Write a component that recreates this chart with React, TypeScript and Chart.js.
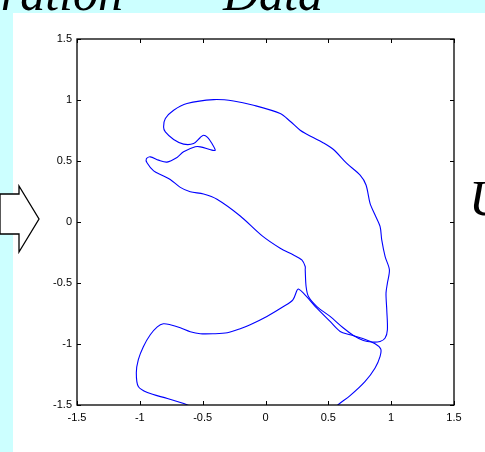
import { useEffect, useRef } from 'react';
import { Chart, registerables } from 'chart.js';

Chart.register(...registerables);

const xTickValues = [-1.5, -1, -0.5, 0, 0.5, 1, 1.5];
const xTickLabels = ['-1.5', '-1', '-0.5', '0', '0.5', '1', '1.5'];
const yTickValues = [-1.5, -1, -0.5, 0, 0.5, 1, 1.5];
const yTickLabels = ['-1.5', '-1', '-0.5', '0', '0.5', '1', '1.5'];

// closed upper contour
const loopX = [
  0.316, 0.323, 0.342, 0.409, 0.514, 0.62, 0.7, 0.779, 0.846, 0.912, 0.952, 0.97, 0.965, 0.959, 0.97, 0.986,
  0.952, 0.925, 0.912, 0.872, 0.832, 0.8, 0.753, 0.647, 0.541, 0.461, 0.329, 0.276, 0.196, 0.117, -0.095,
  -0.254, -0.413, -0.625, -0.731, -0.797, -0.811, -0.797, -0.731, -0.652, -0.572, -0.519, -0.493, -0.461,
  -0.426, -0.4, -0.426, -0.519, -0.559, -0.652, -0.704, -0.784, -0.851, -0.917, -0.948, -0.943, -0.89,
  -0.824, -0.758, -0.678, -0.599, -0.493, -0.386, -0.201, -0.026, 0.117, 0.223, 0.289, 0.316, 0.316,
];
const loopY = [
  -0.392, -0.529, -0.611, -0.693, -0.774, -0.869, -0.93, -0.971, -0.984, -0.979, -0.951, -0.883, -0.72, -0.583,
  -0.501, -0.392, -0.284, -0.147, -0.038, 0.057, 0.153, 0.303, 0.384, 0.48, 0.594, 0.648, 0.72, 0.752, 0.826,
  0.889, 0.957, 0.992, 1.003, 0.971, 0.916, 0.848, 0.779, 0.738, 0.676, 0.638, 0.643, 0.693, 0.711, 0.693,
  0.643, 0.589, 0.589, 0.616, 0.616, 0.575, 0.529, 0.491, 0.507, 0.534, 0.518, 0.485, 0.419, 0.384, 0.349,
  0.284, 0.248, 0.229, 0.186, 0.049, -0.114, -0.215, -0.27, -0.311, -0.365, -0.392,
];

// open lower contour (runs off the bottom edge at both ends)
const curveX = [
  -0.559, -0.63, -0.781, -0.94, -1.012, -1.028, -1.012, -0.972, -0.917, -0.861, -0.813, -0.758, -0.678,
  -0.599, -0.519, -0.416, -0.304, -0.201, -0.122, 0.011, 0.143, 0.218, 0.25, 0.262, 0.302, 0.409, 0.514,
  0.594, 0.673, 0.779, 0.872, 0.917, 0.912, 0.872, 0.793, 0.673, 0.58, 0.522,
];
const curveY = [
  -1.529, -1.496, -1.447, -1.398, -1.349, -1.235, -1.128, -1.022, -0.924, -0.859, -0.834, -0.842, -0.867,
  -0.899, -0.916, -0.916, -0.908, -0.875, -0.842, -0.774, -0.693, -0.638, -0.562, -0.55, -0.583, -0.706,
  -0.815, -0.897, -0.924, -0.957, -0.998, -1.041, -1.101, -1.196, -1.306, -1.423, -1.496, -1.554,
];

const zip = (xs: number[], ys: number[]) => xs.map((x, i) => ({ x, y: ys[i] }));

const decor = {
  id: 'decor',
  beforeDraw(chart: any) {
    const ctx = chart.ctx as CanvasRenderingContext2D;
    const w = chart.width;
    const h = chart.height;
    ctx.save();
    ctx.fillStyle = '#ffffff';
    ctx.fillRect(0, 0, w, h);
    ctx.fillStyle = '#ccffff';
    ctx.fillRect(0, 0, w, 13);
    ctx.fillRect(0, 0, 13, h);
    ctx.restore();
  },
  afterDraw(chart: any) {
    const ctx = chart.ctx as CanvasRenderingContext2D;
    const a = chart.chartArea;
    const xs = chart.scales.x;
    const ys = chart.scales.y;
    ctx.save();
    // frame
    ctx.strokeStyle = '#000000';
    ctx.lineWidth = 1.3;
    ctx.strokeRect(a.left, a.top, a.right - a.left, a.bottom - a.top);
    // inward ticks
    ctx.lineWidth = 1;
    const tl = 4;
    ctx.beginPath();
    xTickValues.forEach((v) => {
      const px = Math.round(xs.getPixelForValue(v)) + 0.5;
      ctx.moveTo(px, a.bottom);
      ctx.lineTo(px, a.bottom - tl);
      ctx.moveTo(px, a.top);
      ctx.lineTo(px, a.top + tl);
    });
    yTickValues.forEach((v) => {
      const py = Math.round(ys.getPixelForValue(v)) + 0.5;
      ctx.moveTo(a.left, py);
      ctx.lineTo(a.left + tl, py);
      ctx.moveTo(a.right, py);
      ctx.lineTo(a.right - tl, py);
    });
    ctx.stroke();

    // slide fragments around the figure
    ctx.fillStyle = '#000000';
    ctx.font = 'italic 50px "Liberation Serif", "DejaVu Serif", serif';
    ctx.textBaseline = 'alphabetic';
    ctx.textAlign = 'right';
    ctx.fillText('ration', 123, 10);
    ctx.textAlign = 'left';
    ctx.fillText('Data', 223, 10);
    ctx.fillText('U', 469, 215);

    // outlined arrow
    ctx.beginPath();
    ctx.moveTo(0, 194);
    ctx.lineTo(19, 194);
    ctx.lineTo(19, 186);
    ctx.lineTo(39, 219);
    ctx.lineTo(19, 252);
    ctx.lineTo(19, 234);
    ctx.lineTo(0, 234);
    ctx.closePath();
    ctx.fillStyle = '#ffffff';
    ctx.fill();
    ctx.lineWidth = 1.3;
    ctx.strokeStyle = '#000000';
    ctx.stroke();
    ctx.restore();
  },
};

export default function App() {
  const ref = useRef<HTMLCanvasElement | null>(null);
  useEffect(() => {
    if (!ref.current) return;
    const font = { family: '"Liberation Sans", Arial, sans-serif', size: 11 };
    const line = {
      showLine: true,
      borderColor: '#0000ff',
      borderWidth: 1.1,
      pointRadius: 0,
      tension: 0.3,
      fill: false,
    };
    const chart = new Chart(ref.current, {
      type: 'scatter',
      data: {
        datasets: [
          { ...line, data: zip(loopX, loopY) },
          { ...line, data: zip(curveX, curveY) },
        ],
      },
      options: {
        animation: false,
        responsive: false,
        maintainAspectRatio: false,
        events: [],
        layout: { padding: { top: 39, right: 31, left: 0, bottom: 0 } },
        plugins: { legend: { display: false }, tooltip: { enabled: false }, title: { display: false } },
        scales: {
          x: {
            type: 'linear',
            min: -1.5,
            max: 1.5,
            afterFit: (s: any) => {
              s.height = 47;
            },
            afterBuildTicks: (s: any) => {
              s.ticks = xTickValues.map((v) => ({ value: v }));
            },
            grid: { display: false, drawTicks: false },
            border: { display: false },
            ticks: {
              padding: 6,
              color: '#000000',
              font,
              maxRotation: 0,
              autoSkip: false,
              callback: (_v: any, i: number) => xTickLabels[i],
            },
          },
          y: {
            type: 'linear',
            min: -1.5,
            max: 1.5,
            afterFit: (s: any) => {
              s.width = 77;
            },
            afterBuildTicks: (s: any) => {
              s.ticks = yTickValues.map((v) => ({ value: v }));
            },
            grid: { display: false, drawTicks: false },
            border: { display: false },
            ticks: {
              padding: 5,
              color: '#000000',
              font,
              autoSkip: false,
              callback: (_v: any, i: number) => yTickLabels[i],
            },
          },
        },
      },
      plugins: [decor],
    });
    return () => chart.destroy();
  }, []);
  return (
    <div style={{ position: 'fixed', left: 0, top: 0, width: 485, height: 452, background: '#fff' }}>
      <canvas ref={ref} width={485} height={452} style={{ display: 'block', width: 485, height: 452 }} />
    </div>
  );
}
